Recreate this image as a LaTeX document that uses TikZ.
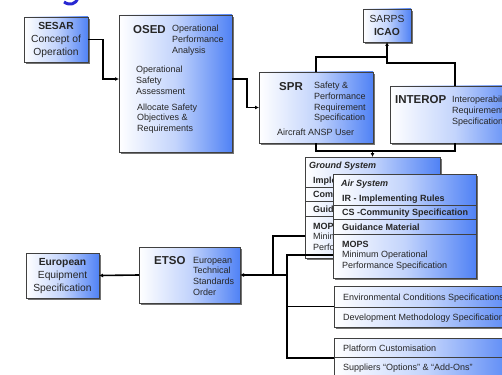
\documentclass[tikz,border=0pt]{standalone}
\usepackage{fontspec}
\setmainfont{Liberation Sans}
\usetikzlibrary{shadows,arrows.meta}
\definecolor{boxblue}{RGB}{80,130,245}
\definecolor{boxmid}{RGB}{195,212,252}
\definecolor{titleblue}{RGB}{40,40,210}

\begin{document}
\begin{tikzpicture}[x=1pt,y=-1pt,
  specbox/.style={draw=black!75, line width=0.7pt, left color=white, right color=boxblue, middle color=boxmid,
    drop shadow={shadow xshift=2pt,shadow yshift=-2pt,fill=black!55,opacity=1},
    anchor=north west, inner sep=0pt, outer sep=0pt},
  lbl/.style={anchor=north west, inner sep=0pt, align=left, text=black!85, font=\fontsize{9}{10.8}\selectfont},
  bigtxt/.style={lbl, font=\fontsize{11.5}{13}\selectfont\bfseries},
  midtxt/.style={anchor=north, inner sep=0pt, align=center, text=black!85, font=\fontsize{10.3}{13}\selectfont},
  rowline/.style={draw=black!75, line width=0.7pt},
  conn/.style={line width=1.6pt},
  arr/.style={conn, -{Latex[length=4pt,width=4pt]}}]
\useasboundingbox (0,0) rectangle (502,374);
\clip (0,0) rectangle (502,374);

% Title remnant
\draw[titleblue, line width=3pt] (64,2) .. controls (70,6) and (76,4) .. (78,-2);

% Top row
\node[specbox, minimum width=64pt, minimum height=45pt] (sesar) at (24,17) {};
\node[midtxt] at (56,22.3) {\textbf{SESAR}\\Concept of\\Operation};

\node[specbox, minimum width=113pt, minimum height=137pt] (osed) at (119,15) {};
\node[bigtxt] at (133,25) {OSED};
\node[lbl] at (172,25) {Operational\\Performance\\Analysis};
\node[lbl] at (136,65.7) {Operational\\Safety\\Assessment};
\node[lbl] at (137,103.4) {Allocate Safety\\Objectives \&\\Requirements};

\node[specbox, minimum width=114pt, minimum height=71pt] (spr) at (259,72) {};
\node[bigtxt] at (279,82) {SPR};
\node[lbl] at (314,81.7) {Safety \&\\Performance\\Requirement\\Specification};
\node[lbl] at (277,128.4) {Aircraft ANSP User};

\node[specbox, minimum width=48pt, minimum height=33pt] (sarps) at (363,9) {};
\node[midtxt] at (387,15.6) {SARPS\\\textbf{ICAO}};

\node[specbox, minimum width=130pt, minimum height=57pt] (interop) at (390,86) {};
\node[bigtxt] at (395,95.2) {INTEROP};
\node[lbl] at (452,96) {Interoperability\\Requirements\\Specification};

% Ground and air systems
\node[specbox, minimum width=135pt, minimum height=101pt] (ground) at (305,157) {};
\foreach \y in {187,201,216}
  \draw[rowline] (ground.west |- 0,\y) -- (ground.east |- 0,\y);
\node[lbl, font=\fontsize{9}{10.8}\selectfont\bfseries\itshape] at (309,161.7) {Ground System};
\node[lbl, font=\fontsize{9}{10.8}\selectfont\bfseries] at (313,176.4) {Implementing Rules};
\node[lbl, font=\fontsize{9}{10.8}\selectfont\bfseries] at (313,191) {Community Specification};
\node[lbl, font=\fontsize{9}{10.8}\selectfont\bfseries] at (313,205.4) {Guidance Material};
\node[lbl] at (313,222.7) {\textbf{MOPS}\\Minimum Operational\\Performance Specification};

\node[specbox, minimum width=143pt, minimum height=104pt] (air) at (333,174) {};
\foreach \y in {205,219,234}
  \draw[rowline] (air.west |- 0,\y) -- (air.east |- 0,\y);
\node[lbl, font=\fontsize{9}{10.8}\selectfont\bfseries\itshape] at (341,179.7) {Air System};
\node[lbl, font=\fontsize{9}{10.8}\selectfont\bfseries] at (342,194.4) {IR - Implementing Rules};
\node[lbl, font=\fontsize{9}{10.8}\selectfont\bfseries] at (342,209) {CS -Community Specification};
\node[lbl, font=\fontsize{9}{10.8}\selectfont\bfseries] at (342,223.4) {Guidance Material};
\node[lbl] at (342,240.7) {\textbf{MOPS}\\Minimum Operational\\Performance Specification};

% Lower specifications
\node[specbox, minimum width=185pt, minimum height=41pt] (env) at (334,286) {};
\draw[rowline] (env.west |- 0,307) -- (env.east |- 0,307);
\node[lbl] at (343,293.4) {Environmental Conditions Specifications};
\node[lbl] at (343,313.4) {Development Methodology Specification};

\node[specbox, minimum width=185pt, minimum height=40pt] (platform) at (334,338) {};
\draw[rowline] (platform.west |- 0,357) -- (platform.east |- 0,357);
\node[lbl] at (343,345) {Platform Customisation};
\node[lbl] at (343,364) {Suppliers “Options” \& “Add-Ons”};

% ETSO and equipment
\node[specbox, minimum width=101pt, minimum height=56pt] (etso) at (139,247) {};
\node[bigtxt] at (154,255.9) {ETSO};
\node[lbl] at (193,256.7) {European\\Technical\\Standards\\Order};

\node[specbox, minimum width=73pt, minimum height=45pt] (europ) at (26,253) {};
\node[midtxt] at (62.5,258.6) {\textbf{European}\\Equipment\\Specification};

% Connectors
\draw[arr] (sesar.east) -| (103,79) -- (osed.west |- 0,79);
\draw[arr] (osed.east |- 0,79) -- (247,79) |- (spr.west);
\draw[conn] (spr.north) |- (387,57);
\draw[arr] (interop.north) |- (387,63) -- (sarps.south);
\draw[conn] (spr.south) |- (interop.south |- 0,151) -- (interop.south);
\draw[arr] (ground.north |- 0,151) -- (ground.north);

\coordinate (bus) at (287,275);
\draw[conn] (ground.west |- 0,236) -| (273,275);
\draw[conn] (air.west |- 0,255) -| (bus |- 0,358) -- (platform.west);
\draw[conn] (bus |- 0,306.5) -- (env.west);
\draw[line width=2.6pt, -{Latex[length=4pt,width=4pt]}] (bus) -- (etso.east);
\draw[arr] (etso.west) -- (europ.east);
\end{tikzpicture}
\end{document}
